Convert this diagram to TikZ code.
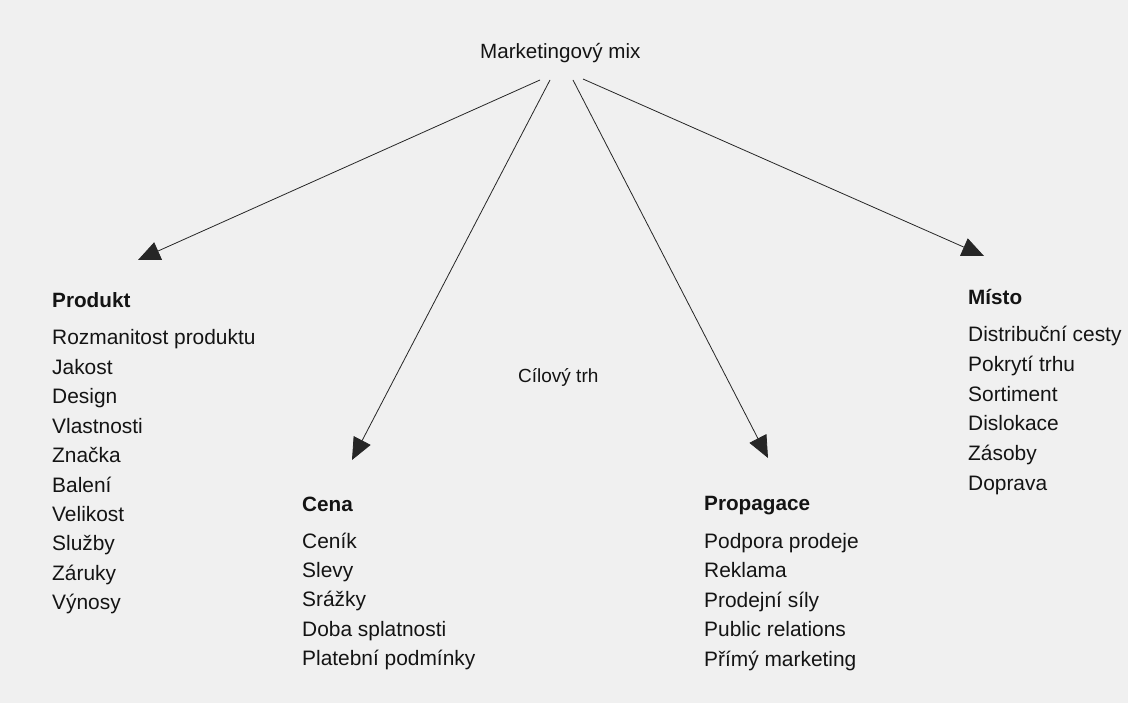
\documentclass[tikz,border=0pt]{standalone}
\usepackage{fontspec}
\setmainfont{Liberation Sans}
\usetikzlibrary{arrows.meta}
\begin{document}
\begin{tikzpicture}[x=1pt,y=-1pt,
  lbl/.style={anchor=base west, inner sep=0pt, text=black!92, font=\fontsize{20.9}{24}\selectfont},
  head/.style={lbl, font=\fontsize{20.7}{24}\selectfont\bfseries},
  small/.style={lbl, font=\fontsize{19}{23}\selectfont},
  conn/.style={draw=black!85, line width=0.8pt, -{Triangle[length=22pt,width=19pt]}}]
\fill[black!6] (0,0) rectangle (1128,703);
\useasboundingbox (0,0) rectangle (1128,703);

% title
\node[lbl, font=\fontsize{20.6}{24}\selectfont] (mix) at (480,59) {Marketingový mix};
\node[small] (cil) at (518,383) {Cílový trh};

% Produkt
\node[head] (prod) at (52,308) {Produkt};
\foreach \t [count=\i] in {Rozmanitost produktu, Jakost, Design, Vlastnosti, Značka, Balení, Velikost, Služby, Záruky, Výnosy}
  \node[lbl] (p\i) at (52,{345+29.4*(\i-1)}) {\t};

% Cena
\node[head] (cena) at (302,511) {Cena};
\foreach \t [count=\i] in {Ceník, Slevy, Srážky, Doba splatnosti, Platební podmínky}
  \node[lbl] (c\i) at (302,{548+29.4*(\i-1)}) {\t};

% Propagace
\node[head] (prop) at (704,510) {Propagace};
\foreach \t [count=\i] in {Podpora prodeje, Reklama, Prodejní síly, Public relations, Přímý marketing}
  \node[lbl] (g\i) at (704,{548+29.5*(\i-1)}) {\t};

% Misto
\node[head] (misto) at (968,305) {Místo};
\foreach \t [count=\i] in {Distribuční cesty, Pokrytí trhu, Sortiment, Dislokace, Zásoby, Doprava}
  \node[lbl] (m\i) at (968,{342+29.6*(\i-1)}) {\t};

% connectors
\coordinate (s1) at (540,80);
\coordinate (s2) at (550,80);
\coordinate (s3) at (573,80);
\coordinate (s4) at (583,79);
\coordinate (t1) at (138,260);
\coordinate (t2) at (352,460);
\coordinate (t3) at (768,458);
\coordinate (t4) at (984,256);
\draw[conn] (s1) -- (t1);
\draw[conn] (s2) -- (t2);
\draw[conn] (s3) -- (t3);
\draw[conn] (s4) -- (t4);
\end{tikzpicture}
\end{document}
